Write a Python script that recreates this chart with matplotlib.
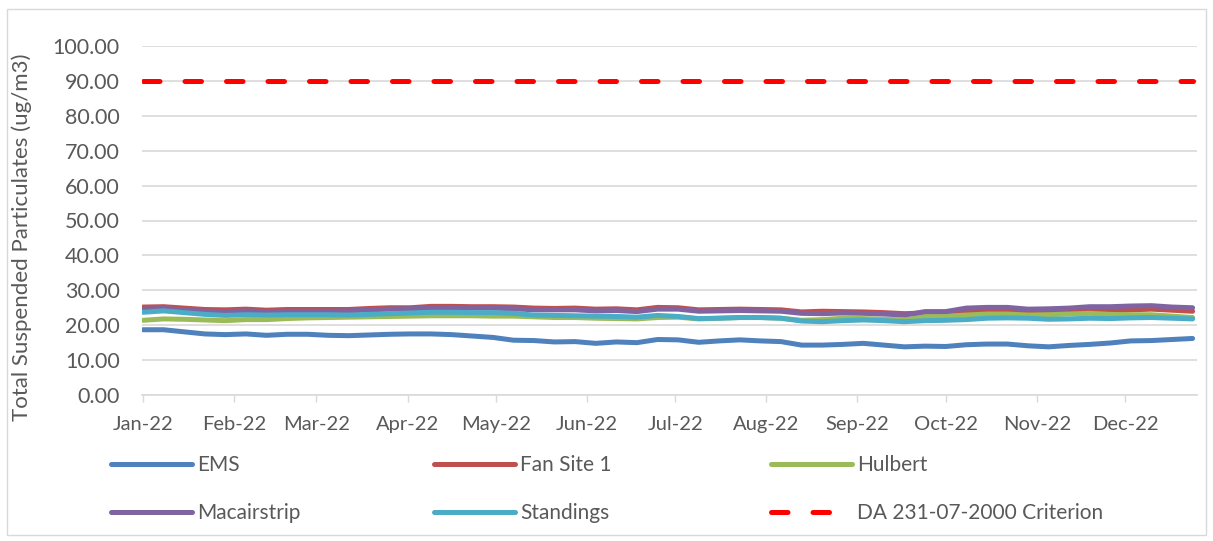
import matplotlib.pyplot as plt
import matplotlib.dates as mdates
import pandas as pd
from matplotlib.patches import Rectangle

plt.rcParams["font.family"] = ["Lato", "DejaVu Sans"]

# weekly readings, 2022
weeks = pd.date_range("2022-01-01", periods=52, freq="7D")

ems = [18.7, 18.7, 18.1, 17.5, 17.3, 17.5, 17.1, 17.4, 17.4, 17.1, 17.0, 17.2, 17.4,
       17.5, 17.5, 17.3, 16.9, 16.5, 15.7, 15.6, 15.2, 15.3, 14.8, 15.2, 15.0, 15.9,
       15.8, 15.1, 15.5, 15.8, 15.5, 15.3, 14.3, 14.3, 14.5, 14.8, 14.3, 13.8, 14.0,
       13.9, 14.4, 14.6, 14.6, 14.1, 13.8, 14.2, 14.5, 14.9, 15.5, 15.6, 15.9, 16.2]
fan_site_1 = [25.2, 25.3, 24.9, 24.5, 24.4, 24.6, 24.3, 24.5, 24.5, 24.5, 24.5, 24.8, 25.0,
              25.0, 25.4, 25.4, 25.3, 25.3, 25.2, 24.9, 24.8, 24.9, 24.6, 24.7, 24.4, 25.1,
              25.0, 24.4, 24.5, 24.6, 24.5, 24.4, 23.8, 24.0, 23.9, 23.8, 23.6, 23.3, 23.5,
              23.6, 23.8, 23.9, 23.9, 23.7, 23.8, 23.9, 24.1, 24.0, 24.4, 24.6, 24.3, 24.0]
hulbert = [21.4, 21.8, 21.7, 21.5, 21.3, 21.6, 21.6, 21.9, 22.1, 22.2, 22.3, 22.4, 22.5,
           22.6, 22.7, 22.7, 22.7, 22.6, 22.6, 22.4, 22.2, 22.2, 22.0, 21.9, 21.8, 22.2,
           22.3, 21.8, 22.0, 22.2, 22.2, 22.0, 21.4, 21.6, 22.0, 21.9, 21.7, 21.5, 22.5,
           22.6, 22.9, 23.2, 23.2, 22.9, 23.0, 23.2, 23.4, 23.1, 23.0, 23.0, 22.6, 22.2]
macairstrip = [24.6, 24.8, 24.4, 24.0, 23.9, 24.1, 23.9, 24.0, 24.0, 24.0, 24.1, 24.4, 24.6,
               24.7, 25.0, 25.0, 24.9, 24.9, 24.7, 24.4, 24.4, 24.4, 24.1, 24.2, 23.9, 24.6,
               24.6, 24.0, 24.1, 24.2, 24.1, 24.0, 23.4, 23.3, 23.5, 23.4, 23.2, 22.9, 23.9,
               23.9, 24.9, 25.1, 25.1, 24.6, 24.7, 24.9, 25.3, 25.3, 25.5, 25.6, 25.2, 25.0]
standings = [23.7, 24.1, 23.6, 23.1, 22.8, 23.0, 22.9, 23.0, 23.0, 23.0, 22.9, 23.1, 23.3,
             23.5, 23.7, 23.7, 23.6, 23.6, 23.4, 22.9, 22.8, 22.7, 22.6, 22.5, 22.3, 22.8,
             22.5, 21.9, 22.0, 22.2, 22.2, 22.0, 21.2, 21.0, 21.3, 21.5, 21.3, 21.0, 21.3,
             21.4, 21.6, 22.0, 22.1, 22.0, 21.7, 21.8, 22.0, 21.9, 22.1, 22.2, 22.0, 21.8]
criterion = [90.0] * 52

series = [
    ("EMS", ems, "#4F81BD"),
    ("Fan Site 1", fan_site_1, "#C0504D"),
    ("Hulbert", hulbert, "#9BBB59"),
    ("Macairstrip", macairstrip, "#8064A2"),
    ("Standings", standings, "#4BACC6"),
]

text_color = "#595959"

fig = plt.figure(figsize=(12.13, 5.41), dpi=100)
fig.patches.append(Rectangle((7 / 1213, 6 / 541), 1199 / 1213, 526 / 541,
                             transform=fig.transFigure, fill=False,
                             edgecolor="#d9d9d9", linewidth=1))
ax = fig.add_axes([142 / 1213, (541 - 395) / 541, 1055 / 1213, 349 / 541])

handles = {}
for name, values, color in series:
    (ln,) = ax.plot(weeks, values, color=color, linewidth=3.6,
                    solid_capstyle="round", solid_joinstyle="round", label=name)
    handles[name] = ln

(crit,) = ax.plot(weeks, criterion, color="#FF0000", linewidth=3.6,
                  linestyle=(0, (3.3, 5.0)), dash_capstyle="round",
                  label="DA 231-07-2000 Criterion")
handles["DA 231-07-2000 Criterion"] = crit

ax.set_ylim(0, 100)
ax.set_yticks(range(0, 101, 10))
ax.yaxis.set_major_formatter(plt.FuncFormatter(lambda v, p: f"{v:.2f}"))
ax.set_xlim(pd.Timestamp("2022-01-01") - pd.Timedelta(hours=8),
            pd.Timestamp("2022-01-01") + pd.Timedelta(days=358.5))
ax.xaxis.set_major_locator(mdates.MonthLocator())
ax.xaxis.set_major_formatter(mdates.DateFormatter("%b-%y"))

ax.grid(axis="y", color="#d9d9d9", linewidth=1.2)
ax.set_axisbelow(True)
for side in ["top", "right", "left"]:
    ax.spines[side].set_visible(False)
ax.spines["bottom"].set_color("#d9d9d9")
ax.spines["bottom"].set_linewidth(1.2)
ax.tick_params(axis="y", length=0, pad=16, labelsize=15.5, labelcolor=text_color)
ax.tick_params(axis="x", length=5, width=1, color="#d9d9d9", pad=10,
               labelsize=14.5, labelcolor=text_color)

ax.set_ylabel("Total Suspended Particulates (ug/m3)", fontsize=16, color=text_color)
ax.yaxis.set_label_coords(-0.104, 0.453)

columns = [
    (["EMS", "Macairstrip"], 111),
    (["Fan Site 1", "Standings"], 434),
    (["Hulbert", "DA 231-07-2000 Criterion"], 771),
]
for names, xpix in columns:
    fig.legend([handles[n] for n in names], names, loc="upper left",
               bbox_to_anchor=(xpix / 1213, (541 - 455) / 541), ncol=1,
               frameon=False, fontsize=15, labelcolor=text_color,
               handlelength=3.9, handletextpad=0.25, labelspacing=1.35,
               borderaxespad=0, borderpad=0)

fig.savefig("out.png", dpi=100)
